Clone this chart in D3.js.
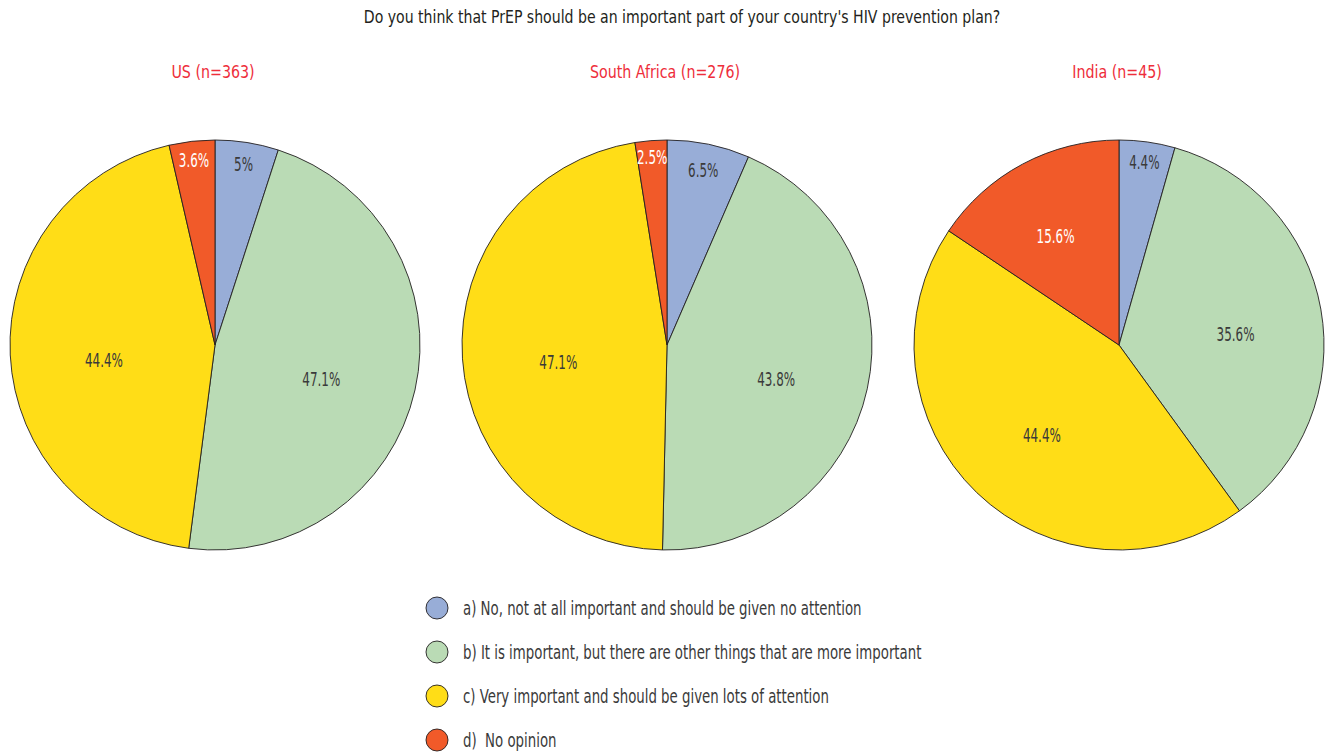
<!DOCTYPE html>
<html>
<head>
<meta charset="utf-8">
<script src="https://cdn.jsdelivr.net/npm/d3@7"></script>
<style>
  html, body { margin: 0; padding: 0; background: #ffffff; }
  svg { display: block; }
  text { font-family: "DejaVu Sans Condensed", "Liberation Sans Narrow", sans-serif; white-space: pre; }
</style>
</head>
<body>
<svg id="chart" width="1335" height="753"></svg>
<script>
// Survey question and answer categories
const title = "Do you think that PrEP should be an important part of your country's HIV prevention plan?";
const categories = [
  "a) No, not at all important and should be given no attention",
  "b) It is important, but there are other things that are more important",
  "c) Very important and should be given lots of attention",
  "d)  No opinion"
];
const colors = ["#98add7", "#badbb5", "#ffdd17", "#f15a29"];

// Respondent groups and their answer shares (%)
const countries = ["US (n=363)", "South Africa (n=276)", "India (n=45)"];
const usValues = [5, 47.1, 44.4, 3.6];
const southAfricaValues = [6.5, 43.8, 47.1, 2.5];
const indiaValues = [4.4, 35.6, 44.4, 15.6];
const seriesValues = [usValues, southAfricaValues, indiaValues];

const svg = d3.select("#chart");

// Condensed text: the glyphs are narrowed horizontally around the anchor point
function condensedText(parent, x, y, str, size, sx, anchor, fill) {
  return parent.append("text")
    .attr("transform", `translate(${x},${y}) scale(${sx},1)`)
    .attr("text-anchor", anchor)
    .attr("dy", "0.35em")
    .attr("fill", fill)
    .attr("xml:space", "preserve")
    .style("font-size", size + "px")
    .text(str);
}

condensedText(svg, 682, 17, title, 18, 0.87, "middle", "#231f20");

const centers = d3.scalePoint().domain(countries).range([215, 1119]);
const radius = 205;
const cy = 345;

const pie = d3.pie().sort(null).value(d => d);
const arc = d3.arc().innerRadius(0).outerRadius(radius);
const fmt = v => v + "%";

countries.forEach((name, i) => {
  const cx = centers(name);
  condensedText(svg, cx - 2, 72, name, 18, 0.88, "middle", "#ee2e3b");

  const g = svg.append("g").attr("transform", `translate(${cx},${cy})`);
  const arcs = pie(seriesValues[i]);

  g.selectAll("path").data(arcs).join("path")
    .attr("d", arc)
    .attr("fill", (d, j) => colors[j])
    .attr("stroke", "#231f20")
    .attr("stroke-width", 0.9);

  arcs.forEach((d, j) => {
    const share = d.value / 100;
    // thin slices get their label near the rim, wider ones further in
    const r = share < 0.1 ? radius * (0.95 - 1.2 * share) : radius * (0.72 - 0.4 * share);
    const shift = share < 0.1 ? 0 : 10;
    const a = (d.startAngle + d.endAngle) / 2;
    condensedText(g, Math.sin(a) * r, -Math.cos(a) * r + shift, fmt(d.value),
      19, 0.7, "middle", j === 3 ? "#ffffff" : "#3a3a3a");
  });
});

// Legend
const legendY = d3.scalePoint().domain(categories).range([608, 740]);
const legend = svg.append("g");
categories.forEach((c, j) => {
  const y = legendY(c);
  legend.append("circle")
    .attr("cx", 437).attr("cy", y).attr("r", 11)
    .attr("fill", colors[j])
    .attr("stroke", "#231f20")
    .attr("stroke-width", 0.9);
  condensedText(legend, 463, y, c, 19, 0.78, "start", "#3a3a3a");
});
</script>
</body>
</html>
